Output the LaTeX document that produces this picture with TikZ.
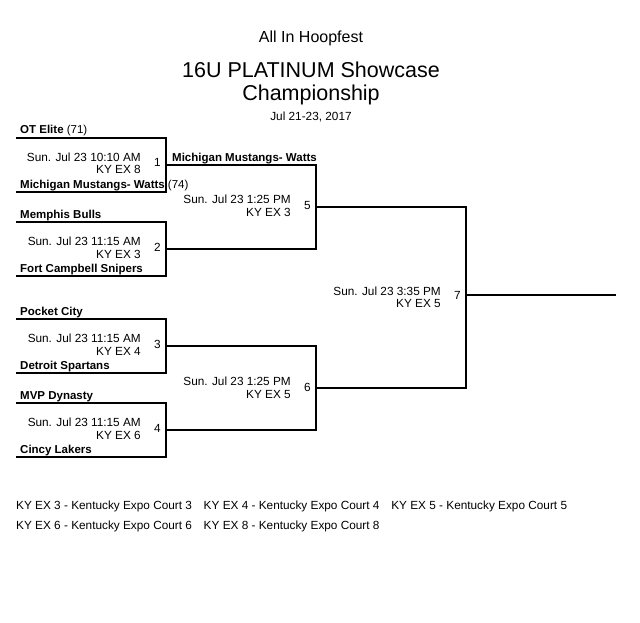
\documentclass[tikz,border=0pt]{standalone}
\usepackage{fontspec}
\setmainfont{Liberation Sans}
\begin{document}
\begin{tikzpicture}[x=1pt,y=-1pt,
  br/.style={line width=1.4pt},
  team/.style={anchor=base west,font=\fontsize{11.5}{13}\selectfont\bfseries,inner sep=0pt},
  info/.style={anchor=base east,font=\fontsize{11.8}{13}\selectfont,inner sep=0pt,align=right},
  num/.style={anchor=base west,font=\fontsize{11.8}{13}\selectfont,inner sep=0pt},
  leg/.style={anchor=base west,font=\fontsize{11.8}{13}\selectfont,inner sep=0pt}]
\useasboundingbox (0,0) rectangle (640,623);
\node[font=\fontsize{16}{18}\selectfont] (t1) at (311,38) {All In Hoopfest};
\node[font=\fontsize{21.5}{24}\selectfont] (t2) at (311,70) {16U PLATINUM Showcase};
\node[font=\fontsize{21.5}{24}\selectfont] (t3) at (311,95) {Championship};
\node[font=\fontsize{11.8}{13}\selectfont] (t4) at (311,117) {Jul 21-23, 2017};
% round 1
\foreach \t/\b/\g/\tt/\bt/\tm/\ct in {
 138/192/1/{OT Elite \textmd{(71)}}/{Michigan Mustangs- Watts \textmd{(74)}}/{Sun. Jul 23 10:10 AM}/{KY EX 8},
 222/276/2/{Memphis Bulls}/{Fort Campbell Snipers}/{Sun. Jul 23 11:15 AM}/{KY EX 3},
 319/373/3/{Pocket City}/{Detroit Spartans}/{Sun. Jul 23 11:15 AM}/{KY EX 4},
 403/457/4/{MVP Dynasty}/{Cincy Lakers}/{Sun. Jul 23 11:15 AM}/{KY EX 6}}{
 \draw[br] (16,\t) -- (166,\t) -- (166,\b) -- (16,\b);
 \node[team] (a\g) at (20,\t-4) {\tt};
 \node[team] (b\g) at (20,\b-4) {\bt};
 \node[info] (i\g) at (141,{(\t+\b)/2-4}) {\tm};
 \node[info] (k\g) at (141,{(\t+\b)/2+9}) {\ct};
 \node[num] (n\g) at (154,{(\t+\b)/2+2}) {\g};
}
% round 2
\draw[br] (166,165) -- (316,165) -- (316,249) -- (166,249);
\node[team] (w1) at (172,161) {Michigan Mustangs- Watts};
\node[info] (i5) at (291,203) {Sun. Jul 23 1:25 PM};
\node[info] (k5) at (291,216) {KY EX 3};
\node[num] (n5) at (304,209) {5};
\draw[br] (166,346) -- (316,346) -- (316,430) -- (166,430);
\node[info] (i6) at (291,385) {Sun. Jul 23 1:25 PM};
\node[info] (k6) at (291,398) {KY EX 5};
\node[num] (n6) at (304,391) {6};
% final
\draw[br] (316,207) -- (466,207) -- (466,388) -- (316,388);
\draw[br] (466,295) -- (616,295);
\node[info] (i7) at (441,295) {Sun. Jul 23 3:35 PM};
\node[info] (k7) at (441,307) {KY EX 5};
\node[num] (n7) at (454,299) {7};
% legend
\node[leg] (l1) at (16,509) {KY EX 3 - Kentucky Expo Court 3\quad KY EX 4 - Kentucky Expo Court 4\quad KY EX 5 - Kentucky Expo Court 5};
\node[leg] (l2) at (16,529) {KY EX 6 - Kentucky Expo Court 6\quad KY EX 8 - Kentucky Expo Court 8};
\end{tikzpicture}
\end{document}
